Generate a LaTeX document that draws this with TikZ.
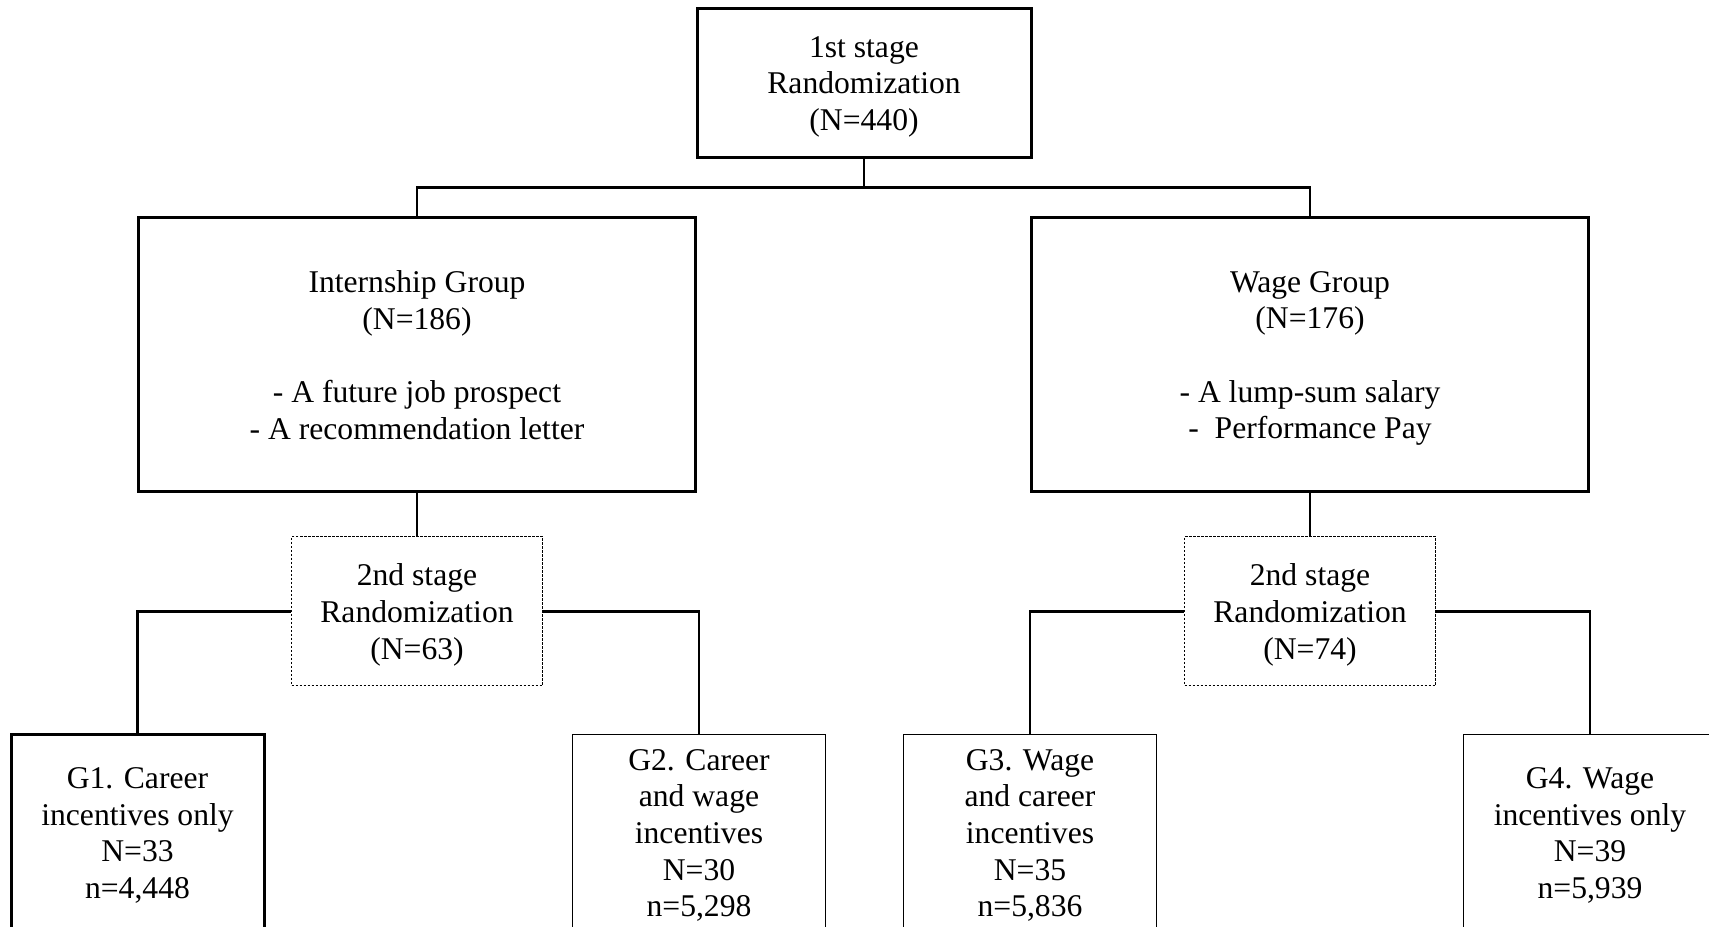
\documentclass[tikz,border=0pt]{standalone}
\usepackage{fontspec}
\setmainfont{Liberation Serif}
\begin{document}
\begin{tikzpicture}[
    font=\fontsize{18}{20.8}\selectfont,
    box/.style={draw, align=center, inner sep=0pt, text depth=-2pt},
    thickbox/.style={box, line width=0.06cm},
    thinbox/.style={box, line width=0.027cm},
    stagebox/.style={box, line width=0.02cm, dash pattern=on 0.05cm off 0.03cm, minimum width=5.02cm, minimum height=2.98cm},
    groupbox/.style={thickbox, minimum width=11.15cm, minimum height=5.48cm},
    armbox/.style={minimum width=5.06cm, minimum height=3.94cm},
    link/.style={line width=0.055cm}
]
    \useasboundingbox (0,0) rectangle (34.18,18.54);
    \clip (0,0) rectangle (34.18,18.54);
    % first stage
    \node[thickbox, minimum width=6.68cm, minimum height=2.98cm] (first) at (17.28,16.87) {1st stage\\Randomization\\(N=440)};
    \coordinate (fork) at (17.28,14.79);
    \node[groupbox] (intern) at (8.34,11.44) {Internship Group\\(N=186)\\[20.8pt]- A future job prospect\\- A recommendation letter};
    \node[groupbox] (wage) at (26.2,11.44) {Wage Group\\(N=176)\\[20.8pt]- A lump-sum salary\\-~ Performance Pay};
    % second stage
    \node[stagebox] (stageA) at (8.34,6.31) {2nd stage\\Randomization\\(N=63)};
    \node[stagebox] (stageB) at (26.2,6.31) {2nd stage\\Randomization\\(N=74)};
    \node[thickbox, armbox] (g1) at (2.75,1.88) {G1. Career\\incentives only\\N=33\\n=4,448};
    \node[thinbox, armbox] (g2) at (13.98,1.88) {G2. Career\\and wage\\incentives\\N=30\\n=5,298};
    \node[thinbox, armbox] (g3) at (20.6,1.88) {G3. Wage\\and career\\incentives\\N=35\\n=5,836};
    \node[thinbox, armbox] (g4) at (31.8,1.88) {G4. Wage\\incentives only\\N=39\\n=5,939};
    % connectors
    \draw[link] (first.south) -- (fork);
    \draw[link] (intern.north) |- (fork) -| (wage.north);
    \draw[link] (intern.south) -- (stageA.north);
    \draw[link] (wage.south) -- (stageB.north);
    \draw[link] (g1.north) |- (stageA.west);
    \draw[link] (stageA.east) -| (g2.north);
    \draw[link] (g3.north) |- (stageB.west);
    \draw[link] (stageB.east) -| (g4.north);
\end{tikzpicture}
\end{document}
